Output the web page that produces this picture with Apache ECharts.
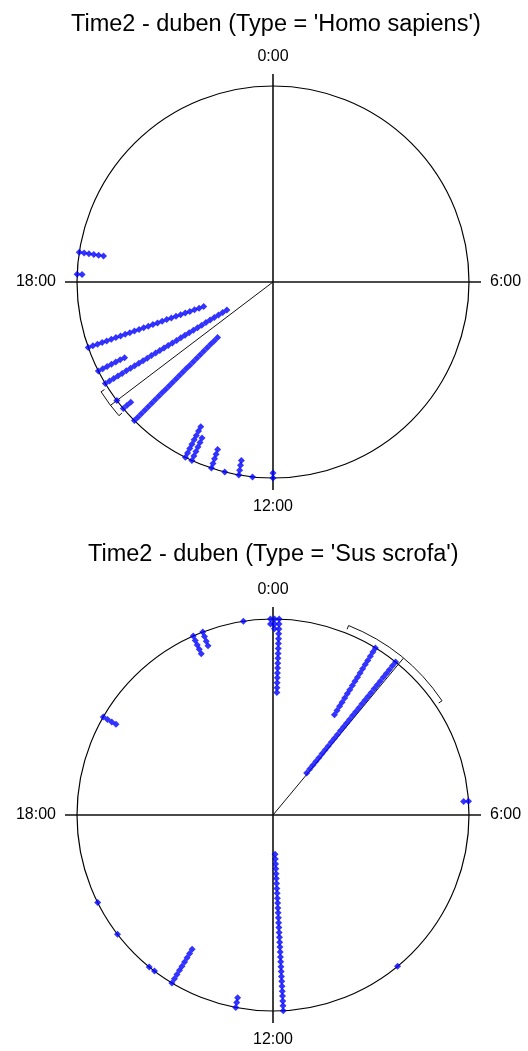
<!DOCTYPE html>
<html>
<head>
<meta charset="utf-8">
<title>Time2 - duben</title>
<script src="https://cdn.jsdelivr.net/npm/echarts@6/dist/echarts.min.js"></script>
<style>
	html,body{margin:0;padding:0;background:#fff;}
	#main{width:528px;height:1051px;}
</style>
</head>
<body>
<div id="main"></div>
<script type="text/javascript">
	// radius of the outer circle in "dot steps"; dots are stacked inward from it
	var RMAX = 40;
	var hourTicks = [0, 6, 12, 18];

	// Type = 'Homo sapiens' : time of each stack (hours) and number of dots in it
	var homoTimes  = [18.58, 18.15, 16.70, 16.20, 15.92, 15.52, 15.32, 15.00, 13.77, 13.63, 13.22, 12.95, 12.67, 12.40, 12.00];
	var homoCounts = [6,     2,     26,    7,     30,    1,     3,     25,    8,     6,     5,     1,     4,     1,     2];
	var homoMean = 15.52;
	var homoCI   = [15.27, 15.83];

	// Type = 'Sus scrofa'
	var susTimes  = [0.12, 23.95, 0.03, 23.42, 22.40, 22.60, 20.00, 5.73, 2.10, 2.58, 11.80, 12.73, 14.07, 14.61, 14.48, 15.50, 16.23, 9.37];
	var susCounts = [16,   2,     3,    1,     5,     4,     4,     2,    17,   30,   33,    3,     9,     1,     1,     1,     1,     1];
	var susMean = 2.65;
	var susCI   = [1.45, 3.73];

	function stackDots(times, counts){
		var pts = [];
		for(var i=0;i<times.length;i++){
			for(var k=0;k<counts[i];k++){
				pts.push([RMAX - k, times[i]]);
			}
		}
		return pts;
	}

	// mean vector + confidence arc outside the circle
	function renderVector(params, api){
		var m = api.value(1), lo = api.value(2), hi = api.value(3);
		var c = api.coord([0, m]);
		var e = api.coord([RMAX, m]);
		var R = Math.hypot(e[0]-c[0], e[1]-c[1]);
		var rArc = R + 8, rIn = R + 4;
		var ang = function(t){ return (t*15 - 90) * Math.PI / 180; };
		var pt = function(r, t){ return [c[0] + r*Math.cos(ang(t)), c[1] + r*Math.sin(ang(t))]; };
		var st = {stroke:'#111', lineWidth:1, fill:'none'};
		var pm = pt(rArc, m), pl1 = pt(rArc, lo), pl2 = pt(rIn, lo), ph1 = pt(rArc, hi), ph2 = pt(rIn, hi);
		return {
			type:'group',
			children:[
				{type:'line', shape:{x1:c[0], y1:c[1], x2:pm[0], y2:pm[1]}, style:st},
				{type:'arc', shape:{cx:c[0], cy:c[1], r:rArc, startAngle:ang(lo), endAngle:ang(hi), clockwise:true}, style:st},
				{type:'line', shape:{x1:pl1[0], y1:pl1[1], x2:pl2[0], y2:pl2[1]}, style:st},
				{type:'line', shape:{x1:ph1[0], y1:ph1[1], x2:ph2[0], y2:ph2[1]}, style:st}
			]
		};
	}

	function angleAxis(idx){
		return {
			polarIndex: idx,
			type: 'value',
			min: 0, max: 24, interval: 6,
			startAngle: 90, clockwise: true,
			axisLine: {lineStyle:{color:'#000', width:1.2}},
			axisTick: {length:12, lineStyle:{color:'#111', width:1.6}},
			axisLabel: {
				margin: 21, color:'#000', fontSize:16, fontFamily:'Liberation Sans',
				formatter: function(v){ return hourTicks.indexOf(v) >= 0 ? v + ':00' : ''; }
			},
			splitLine: {show:true, lineStyle:{color:'#111', width:1.6}}
		};
	}

	function radiusAxis(idx){
		return {polarIndex: idx, type:'value', min:0, max:RMAX, show:false};
	}

	var titleStyle = {fontFamily:'Liberation Sans', fontSize:23.5, fontWeight:'normal', color:'#000'};

	var option = {
		animation: false,
		backgroundColor: '#fff',
		title: [
			{text:"Time2 - duben (Type = 'Homo sapiens')", left:71, top:13, padding:0, textStyle:titleStyle},
			{text:"Time2 - duben (Type = 'Sus scrofa')", left:88, top:543, padding:0, textStyle:titleStyle}
		],
		polar: [
			{center:[273, 282], radius:196},
			{center:[273, 815], radius:196}
		],
		angleAxis: [angleAxis(0), angleAxis(1)],
		radiusAxis: [radiusAxis(0), radiusAxis(1)],
		series: [
			{
				type:'scatter', coordinateSystem:'polar', polarIndex:0,
				symbol:'diamond', symbolSize:7, silent:true,
				itemStyle:{color:'#0000ff'},
				data: stackDots(homoTimes, homoCounts)
			},
			{
				type:'custom', coordinateSystem:'polar', polarIndex:0, silent:true,
				renderItem: renderVector,
				data: [[RMAX, homoMean, homoCI[0], homoCI[1]]]
			},
			{
				type:'scatter', coordinateSystem:'polar', polarIndex:1,
				symbol:'diamond', symbolSize:7, silent:true,
				itemStyle:{color:'#0000ff'},
				data: stackDots(susTimes, susCounts)
			},
			{
				type:'custom', coordinateSystem:'polar', polarIndex:1, silent:true,
				renderItem: renderVector,
				data: [[RMAX, susMean, susCI[0], susCI[1]]]
			}
		]
	};

	var myChart = echarts.init(document.getElementById('main'));
	myChart.setOption(option);
</script>
</body>
</html>
